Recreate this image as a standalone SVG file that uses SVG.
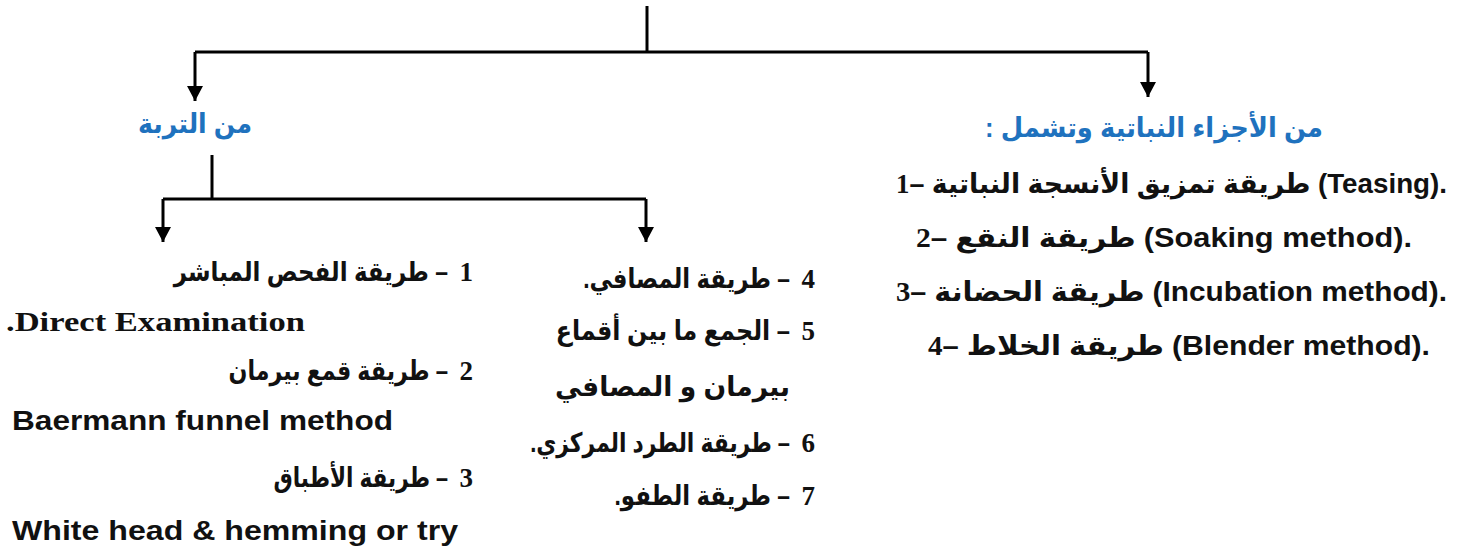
<svg xmlns="http://www.w3.org/2000/svg" width="1466" height="552" viewBox="0 0 1466 552">
<style>
.t{font-family:"Liberation Sans","DejaVu Sans",sans-serif;font-weight:bold;font-size:27px;fill:#111}
.n{font-family:"Liberation Serif","DejaVu Serif",serif;font-weight:bold}
.e{font-size:28px}
.h{font-family:"Liberation Sans","DejaVu Sans",sans-serif;font-weight:bold;font-size:27px;fill:#1f72be}
.rtl{direction:rtl;unicode-bidi:embed}
.c{fill:none;stroke:#000;stroke-width:3}
</style>
<defs>
<marker id="ah" markerUnits="userSpaceOnUse" markerWidth="16" markerHeight="18" refX="15" refY="8" orient="auto">
<path d="M0,0 L15,8 L0,16 z" fill="#000"/>
</marker>
</defs>
<rect width="1466" height="552" fill="#fff"/>
<g id="connectors">
<path class="c" d="M647,6 V52"/>
<path class="c" d="M195,52 H1148"/>
<path class="c" d="M195,52 V101" marker-end="url(#ah)"/>
<path class="c" d="M1148,52 V97" marker-end="url(#ah)"/>
<path class="c" d="M212,155 V199"/>
<path class="c" d="M163,199 H646"/>
<path class="c" d="M163,199 V242" marker-end="url(#ah)"/>
<path class="c" d="M646,199 V242" marker-end="url(#ah)"/>
</g>
<g id="node-soil">
<text class="h rtl" x="252" y="133" text-anchor="start" textLength="114" lengthAdjust="spacingAndGlyphs">من التربة</text>
</g>
<g id="node-plant">
<text class="h rtl" x="1323" y="137" text-anchor="start" textLength="338" lengthAdjust="spacingAndGlyphs">من الأجزاء النباتية وتشمل :</text>
</g>
<g id="node-plant-list">
<text class="t" x="896" y="193" textLength="551" lengthAdjust="spacingAndGlyphs"><tspan class="n">1</tspan>–&#x200E; طريقة تمزيق الأنسجة النباتية <tspan class="e">(Teasing).</tspan></text>
<text class="t" x="916" y="247" textLength="496" lengthAdjust="spacingAndGlyphs"><tspan class="n">2</tspan>–&#x200E; طريقة النقع <tspan class="e">(Soaking method).</tspan></text>
<text class="t" x="896" y="301" textLength="551" lengthAdjust="spacingAndGlyphs"><tspan class="n">3</tspan>–&#x200E; طريقة الحضانة <tspan class="e">(Incubation method).</tspan></text>
<text class="t" x="928" y="355" textLength="502" lengthAdjust="spacingAndGlyphs"><tspan class="n">4</tspan>–&#x200E; طريقة الخلاط <tspan class="e">(Blender method).</tspan></text>
</g>
<g id="node-soil-list-1">
<text class="t n" x="473" y="281" text-anchor="end" font-size="29">1</text>
<text class="t rtl" transform="translate(448,281) scale(0.85,1)" text-anchor="start">– طريقة الفحص المباشر</text>
<text class="t n" x="6" y="331" font-size="31" textLength="299" lengthAdjust="spacingAndGlyphs">.Direct Examination</text>
<text class="t n" x="473" y="380" text-anchor="end" font-size="29">2</text>
<text class="t rtl" transform="translate(448,380) scale(0.82,1)" text-anchor="start">– طريقة قمع بيرمان</text>
<text class="t" x="12" y="430" font-size="29" textLength="381" lengthAdjust="spacingAndGlyphs">Baermann funnel method</text>
<text class="t n" x="473" y="487" text-anchor="end" font-size="29">3</text>
<text class="t rtl" transform="translate(448,487) scale(0.80,1)" text-anchor="start">– طريقة الأطباق</text>
<text class="t" x="12" y="540" font-size="29" textLength="446" lengthAdjust="spacingAndGlyphs">White head &amp; hemming or try</text>
</g>
<g id="node-soil-list-2">
<text class="t n" x="815" y="288" text-anchor="end" font-size="29">4</text>
<text class="t rtl" transform="translate(790,288) scale(0.845,1)" text-anchor="start">–  طريقة المصافي.</text>
<text class="t n" x="815" y="340" text-anchor="end" font-size="29">5</text>
<text class="t rtl" transform="translate(790,340) scale(0.88,1)" text-anchor="start">– الجمع ما بين أقماع</text>
<text class="t rtl" x="790" y="396" text-anchor="start" textLength="235" lengthAdjust="spacingAndGlyphs">بيرمان و المصافي</text>
<text class="t n" x="815" y="452" text-anchor="end" font-size="29">6</text>
<text class="t rtl" transform="translate(790,452) scale(0.81,1)" text-anchor="start">– طريقة الطرد المركزي.</text>
<text class="t n" x="815" y="505" text-anchor="end" font-size="29">7</text>
<text class="t rtl" transform="translate(790,505) scale(0.845,1)" text-anchor="start">– طريقة الطفو.</text>
</g>
</svg>
